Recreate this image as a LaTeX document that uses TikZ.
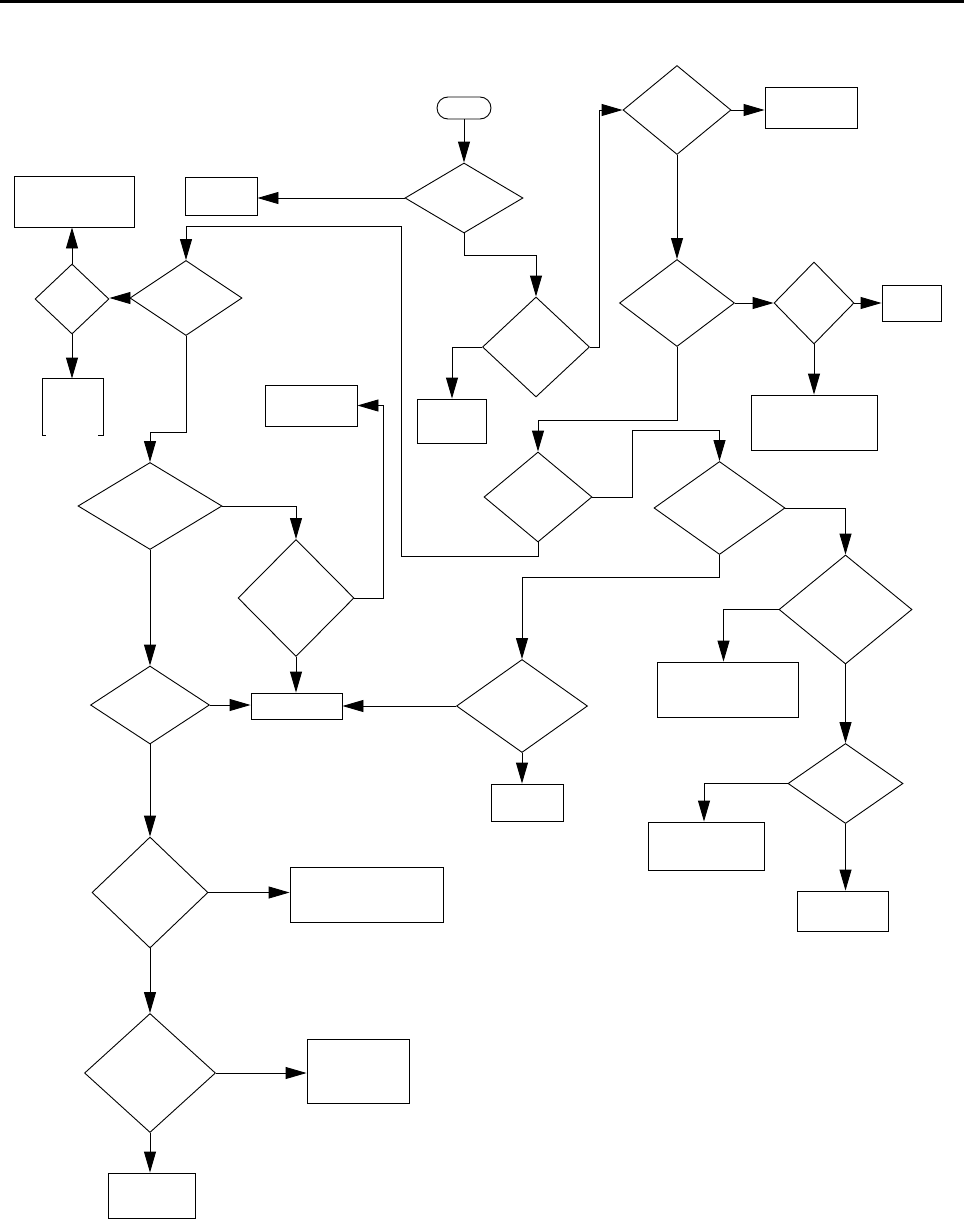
\documentclass[tikz,border=0pt]{standalone}
\usetikzlibrary{shapes.geometric,arrows.meta}
\tikzset{
block/.style={rectangle, draw, inner sep=0pt},
decision/.style={diamond, draw, inner sep=0pt},
terminal/.style={rectangle, draw, rounded corners=11pt, inner sep=0pt},
line/.style={draw, -{Triangle[length=21pt,width=12pt]}}
}

\begin{document}
\begin{tikzpicture}[x=1pt, y=-1pt, line width=0.9pt]
    \useasboundingbox (0,0) rectangle (964,1220);
    \draw [line width=3pt] (0,1.5) -- (964,1.5);
    % Place nodes
    \node [terminal, minimum width=54pt, minimum height=22pt] (start) at (464,108) {};
    \node [decision, minimum width=118pt, minimum height=70pt] (q1) at (464,198) {};
    \node [block, minimum width=72pt, minimum height=38pt] (b1) at (221,196) {};
    \node [decision, minimum width=107pt, minimum height=100pt] (q2) at (536,347) {};
    \node [block, minimum width=69pt, minimum height=44pt] (b2) at (452,421) {};
    \node [decision, minimum width=108pt, minimum height=89pt] (q3) at (677,110) {};
    \node [block, minimum width=92pt, minimum height=41pt] (b3) at (811,108) {};
    \node [decision, minimum width=115pt, minimum height=87pt] (q4) at (677,303) {};
    \node [decision, minimum width=80pt, minimum height=82pt] (q5) at (814,303) {};
    \node [block, minimum width=59pt, minimum height=36pt] (b4) at (911.5,303) {};
    \node [block, minimum width=126pt, minimum height=55pt] (b5) at (814,422.5) {};
    \node [decision, minimum width=108pt, minimum height=90pt] (q6) at (538,497) {};
    \node [decision, minimum width=131pt, minimum height=93pt] (q7) at (719.5,508) {};
    \node [decision, minimum width=112pt, minimum height=75pt] (q8) at (186,298) {};
    \node [decision, minimum width=74pt, minimum height=70pt] (q9) at (72,299) {};
    \node [block, minimum width=120pt, minimum height=51pt] (b6) at (74,201.5) {};
    \node [minimum width=60pt, minimum height=56pt, inner sep=0pt] (b7) at (73,407) {};
    \node [decision, minimum width=144pt, minimum height=87pt] (q10) at (150,506) {};
    \node [decision, minimum width=116pt, minimum height=117pt] (q11) at (296,598) {};
    \node [block, minimum width=92pt, minimum height=41pt] (b8) at (311,405.5) {};
    \node [block, minimum width=91pt, minimum height=26pt] (b9) at (296.5,706) {};
    \node [decision, minimum width=119pt, minimum height=78pt] (q12) at (150,705) {};
    \node [decision, minimum width=131pt, minimum height=93pt] (q13) at (522,706) {};
    \node [block, minimum width=72pt, minimum height=37pt] (b10) at (527,802.5) {};
    \node [decision, minimum width=133pt, minimum height=109pt] (q14) at (845.5,609.5) {};
    \node [block, minimum width=141pt, minimum height=55pt] (b11) at (727.5,689.5) {};
    \node [decision, minimum width=115pt, minimum height=80pt] (q15) at (845.5,783.5) {};
    \node [block, minimum width=116pt, minimum height=48pt] (b12) at (706,846) {};
    \node [block, minimum width=91pt, minimum height=40pt] (b13) at (842.5,911) {};
    \node [decision, minimum width=116pt, minimum height=111pt] (q16) at (150,892.5) {};
    \node [block, minimum width=153pt, minimum height=55pt] (b14) at (366.5,894.5) {};
    \node [decision, minimum width=131pt, minimum height=119pt] (q17) at (150,1073) {};
    \node [block, minimum width=102pt, minimum height=64pt] (b15) at (358,1071) {};
    \node [block, minimum width=87pt, minimum height=45pt] (b16) at (151.5,1195.5) {};
    \coordinate (loop) at (401,226);
    % Open box
    \draw ([xshift=3pt]b7.south west) -- (b7.south west) -- (b7.north west)
        -- (b7.north east) -- (b7.south east) -- ([xshift=-5pt]b7.south east);
    % Draw edges
    \path [line] (start.south) -- (q1.north);
    \path [line] (q1.west) -- (q1.west -| b1.east);
    \path [line] (q1.south) -- ++(0,22) -| (q2.north);
    \path [line] (q2.west) -| (b2.north);
    \path [line] (q2.east) -- ++(9,0) |- (q3.west);
    \path [line] (q3.east) -- (q3.east -| b3.west);
    \path [line] (q3.south) -- (q4.north);
    \path [line] (q4.east) -- (q5.west);
    \path [line] (q5.east) -- (q5.east -| b4.west);
    \path [line] (q5.south) -- (b5.north);
    \path [line] (q4.south) -- ++(0,73) -| (q6.north);
    \path [line] (q6.east) -- ++(40,0) -- ++(0,-67) -| (q7.north);
    \path [line] (q6.south) -- ++(0,14) -| (loop) -| (q8.north);
    \path [line] (q8.west) -- (q8.west -| q9.east);
    \path [line] (q9.north) -- (q9.north |- b6.south);
    \path [line] (q9.south) -- (q9.south |- b7.north);
    \path [line] (q8.south) -- ++(0,96) -| (q10.north);
    \path [line] (q10.east) -| (q11.north);
    \path [line] (q11.east) -- ++(29,0) |- (b8.east);
    \path [line] (q11.south) -- (q11.south |- b9.north);
    \path [line] (q10.south) -- (q12.north);
    \path [line] (q12.east) -- (q12.east -| b9.west);
    \path [line] (q13.west) -- (q13.west -| b9.east);
    \path [line] (q13.south) -- (q13.south |- b10.north);
    \path [line] (q7.south) -- ++(0,22) -| (q13.north);
    \path [line] (q7.east) -| (q14.north);
    \path [line] (q14.west) -| ([xshift=-4pt]b11.north);
    \path [line] (q14.south) -- (q15.north);
    \path [line] (q15.west) -| ([xshift=-2pt]b12.north);
    \path [line] (q15.south) -- (q15.south |- b13.north);
    \path [line] (q12.south) -- (q16.north);
    \path [line] (q16.east) -- (q16.east -| b14.west);
    \path [line] (q16.south) -- (q17.north);
    \path [line] (q17.east) -- (q17.east -| b15.west);
    \path [line] (q17.south) -- (q17.south |- b16.north);
\end{tikzpicture}
\end{document}
